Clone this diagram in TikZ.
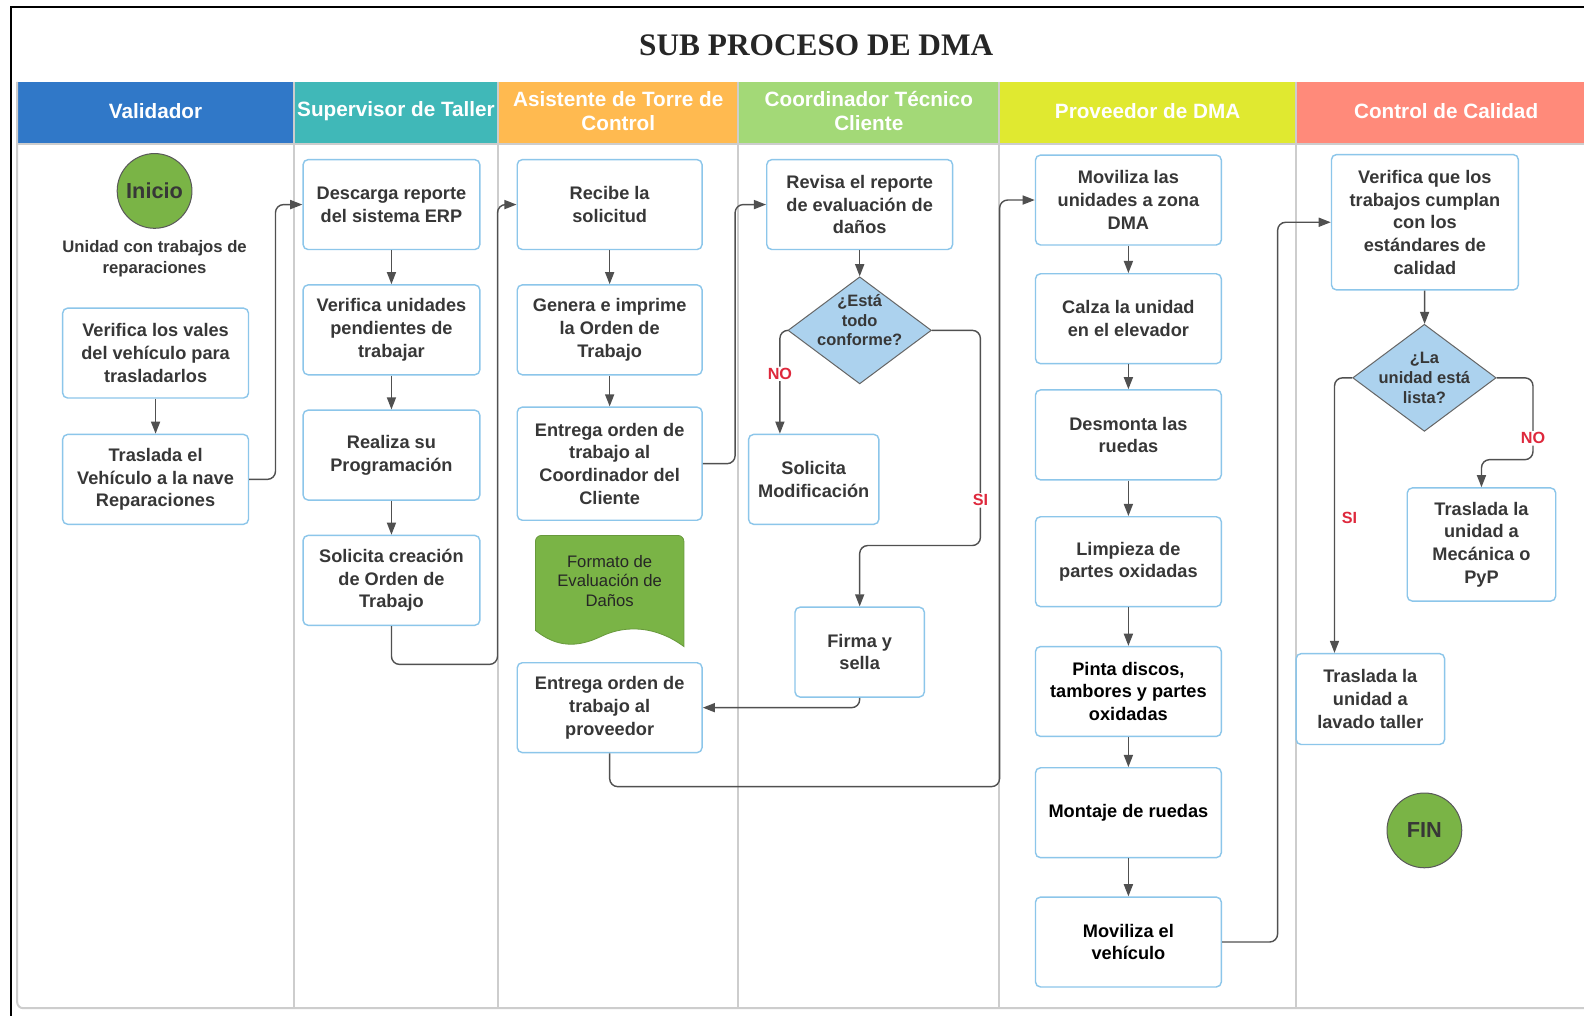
\documentclass[tikz,border=0pt]{standalone}
\usepackage{fontspec}
\setmainfont{Liberation Sans}
\newfontfamily\titlefont{Liberation Serif}
\usetikzlibrary{shapes.geometric,arrows.meta}

\definecolor{hdval}{RGB}{48,120,200}
\definecolor{hdsup}{RGB}{64,184,184}
\definecolor{hdasi}{RGB}{255,186,80}
\definecolor{hdcoo}{RGB}{163,217,119}
\definecolor{hdpro}{RGB}{224,233,48}
\definecolor{hdcal}{RGB}{255,138,122}
\definecolor{bordeazul}{RGB}{140,198,234}
\definecolor{rombo}{RGB}{172,210,238}
\definecolor{verde}{RGB}{122,180,70}
\definecolor{linea}{RGB}{80,80,80}
\definecolor{texto}{RGB}{55,55,55}
\definecolor{rojo}{RGB}{222,40,60}
\definecolor{carril}{RGB}{205,205,205}

\tikzset{
  paso/.style={draw=bordeazul, line width=1.4pt, rounded corners=5pt, fill=white, text=texto, align=center,
    minimum width=184pt, minimum height=89pt, inner sep=1pt, font=\fontsize{18}{22.5}\selectfont\bfseries},
  decide/.style={diamond, aspect=1.33, draw=gray!80!black, line width=1pt, fill=rombo, text=texto, align=center,
    minimum width=142pt, minimum height=106pt, inner sep=-12pt, font=\fontsize{16.3}{19.5}\selectfont\bfseries},
  rombotxt/.style={text=texto, align=center, font=\fontsize{16.3}{19.5}\selectfont\bfseries},
  terminal/.style={circle, draw=gray!70!black, line width=1pt, fill=verde, text=texto, minimum size=74pt,
    font=\fontsize{21.5}{24}\selectfont\bfseries},
  flecha/.style={draw=linea, line width=1.4pt, rounded corners=8pt, -{Triangle[length=12pt,width=9pt]}},
  etiq/.style={fill=white, text=rojo, inner sep=1.5pt, font=\fontsize{16}{18}\selectfont\bfseries},
  cabeza/.style={text=white, align=center, font=\fontsize{20.5}{24}\selectfont\bfseries},
}

\begin{document}
\begin{tikzpicture}[x=1pt,y=-1pt]
\useasboundingbox (0,0) rectangle (1568,1005);
\fill[white] (0,0) rectangle (1568,1005);
\draw[line width=2.5pt] (11,1012) -- (11,7) -- (1575,7);
\node[font=\titlefont\fontsize{31}{34}\selectfont\bfseries, text=black!85] (titulo) at (808,45) {SUB PROCESO DE DMA};

\foreach \xa/\xb/\col/\txt [count=\i] in {17/291/hdval/Validador, 291/493/hdsup/{Supervisor de Taller},
  493/731/hdasi/{Asistente de Torre de\\Control}, 731/989/hdcoo/{Coordinador Técnico\\Cliente},
  989/1283/hdpro/{Proveedor de DMA}, 1283/1580/hdcal/{Control de Calidad}}
{
	\fill[\col] (\xa,81) rectangle (\xb,143);
	\node[cabeza] (cab\i) at ({(\xa+\xb)/2},110) {\txt};
}
\foreach \x in {291,493,731,989,1283}
	\draw[carril, line width=2pt] (\x,81) -- (\x,998);
\draw[carril, line width=2pt] (17,143) -- (1580,143);
\draw[carril, line width=2pt, rounded corners=6pt] (17,81) -- (17,998) -- (1580,998);

\node[terminal] (inicio) at (153,189) {Inicio};
\node[text=texto, align=center, font=\fontsize{16.5}{20}\selectfont\bfseries] (unidad) at (153,256) {Unidad con trabajos de\\reparaciones};
\node[paso] (vales) at (154,349.5) {Verifica los vales\\del vehículo para\\trasladarlos};
\node[paso] (traslada) at (154,474.5) {Traslada el\\Vehículo a la nave\\Reparaciones};

\node[paso, minimum width=175pt] (descarga) at (387.5,202.5) {Descarga reporte\\del sistema ERP};
\node[paso, minimum width=175pt] (pendientes) at (387.5,326.5) {Verifica unidades\\pendientes de\\trabajar};
\node[paso, minimum width=175pt] (programa) at (387.5,450.5) {Realiza su\\Programación};
\node[paso, minimum width=175pt] (creacion) at (387.5,574.5) {Solicita creación\\de Orden de\\Trabajo};

\node[paso, minimum width=183pt] (recibe) at (603.5,202.5) {Recibe la\\solicitud};
\node[paso, minimum width=183pt] (genera) at (603.5,326.5) {Genera e imprime\\la Orden de\\Trabajo};
\node[paso, minimum width=183pt, minimum height=112pt] (entcoord) at (603.5,459) {Entrega orden de\\trabajo al\\Coordinador del\\Cliente};
\filldraw[fill=verde, draw=verde!85!black, line width=0.8pt] (530,624) [rounded corners=6pt] -- (530,530) -- (677,530)
  [sharp corners] -- (677,640) .. controls (650,620) and (620,618) .. (595,630) .. controls (570,642) and (550,640) .. (530,624) -- cycle;
\node[align=center, text=black!85, font=\fontsize{16.5}{19.5}\selectfont] (formato) at (603.5,575) {Formato de\\Evaluación de\\Daños};
\node[paso, minimum width=183pt] (entprov) at (603.5,700.5) {Entrega orden de\\trabajo al\\proveedor};

\node[paso] (revisa) at (851,202.5) {Revisa el reporte\\de evaluación de\\daños};
\node[decide] (conforme) at (851,327) {};
\node[rombotxt] (conftxt) at (851,317) {¿Está\\todo\\conforme?};
\node[paso, minimum width=129pt] (modif) at (805.5,474.5) {Solicita\\Modificación};
\node[paso, minimum width=128pt] (firma) at (851,645.5) {Firma y\\sella};

\node[paso] (movunid) at (1117,198) {Moviliza las\\unidades a zona\\DMA};
\node[paso] (calza) at (1117,315.5) {Calza la unidad\\en el elevador};
\node[paso] (desmonta) at (1117,430.5) {Desmonta las\\ruedas};
\node[paso] (limpieza) at (1117,556) {Limpieza de\\partes oxidadas};
\node[paso, text=black] (pinta) at (1117,684.5) {Pinta discos,\\tambores y partes\\oxidadas};
\node[paso, text=black] (montaje) at (1117,804.5) {Montaje de ruedas};
\node[paso, text=black] (movveh) at (1117,932.5) {Moviliza el\\vehículo};

\node[paso, minimum width=185pt, minimum height=134pt] (verifcal) at (1410.5,220) {Verifica que los\\trabajos cumplan\\con los\\estándares de\\calidad};
\node[decide] (lista) at (1410,374) {¿La\\unidad está\\lista?};
\node[paso, minimum width=147pt, minimum height=112pt] (mecanica) at (1466.5,539) {Traslada la\\unidad a\\Mecánica o\\PyP};
\node[paso, minimum width=147pt, minimum height=90pt] (lavado) at (1356.5,692) {Traslada la\\unidad a\\lavado taller};
\node[terminal] (fin) at (1410,822) {FIN};

\draw[flecha] (vales) -- (traslada);
\draw[flecha] (traslada.east) -- ++(26,0) |- (descarga.west);
\draw[flecha] (descarga) -- (pendientes);
\draw[flecha] (pendientes) -- (programa);
\draw[flecha] (programa) -- (creacion);
\draw[flecha] (creacion.south) -- ++(0,38) -- ++(105,0) |- (recibe.west);
\draw[flecha] (recibe) -- (genera);
\draw[flecha] (genera) -- (entcoord);
\draw[flecha] (entcoord.east) -- ++(32,0) |- (revisa.west);
\draw[flecha] (entprov.south) -- ++(0,33) -- ++(386,0) |- (movunid.west);
\draw[flecha] (revisa) -- (conforme);
\draw[flecha] (conforme.west) -| node[etiq, pos=0.71] (no1) {NO} ([xshift=-33.5pt]modif.north);
\draw[flecha] (conforme.east) -- ++(48,0) -- ++(0,213) node[etiq, pos=0.79] (si1) {SI} -| (firma.north);
\draw[flecha] (firma.south) |- (entprov.east);
\foreach \a/\b in {movunid/calza, calza/desmonta, desmonta/limpieza, limpieza/pinta, pinta/montaje, montaje/movveh}
	\draw[flecha] (\a) -- (\b);
\draw[flecha] (movveh.east) -- ++(55,0) |- (verifcal.west);
\draw[flecha] (verifcal) -- (lista);
\draw[flecha] (lista.west) -| node[etiq, pos=0.755, right=5pt] (si2) {SI} ([xshift=-35.5pt]lavado.north);
\draw[flecha] (lista.east) -- ++(36,0) -- ++(0,81) node[etiq, pos=0.74] (no2) {NO} -| (mecanica.north);

\end{tikzpicture}
\end{document}
